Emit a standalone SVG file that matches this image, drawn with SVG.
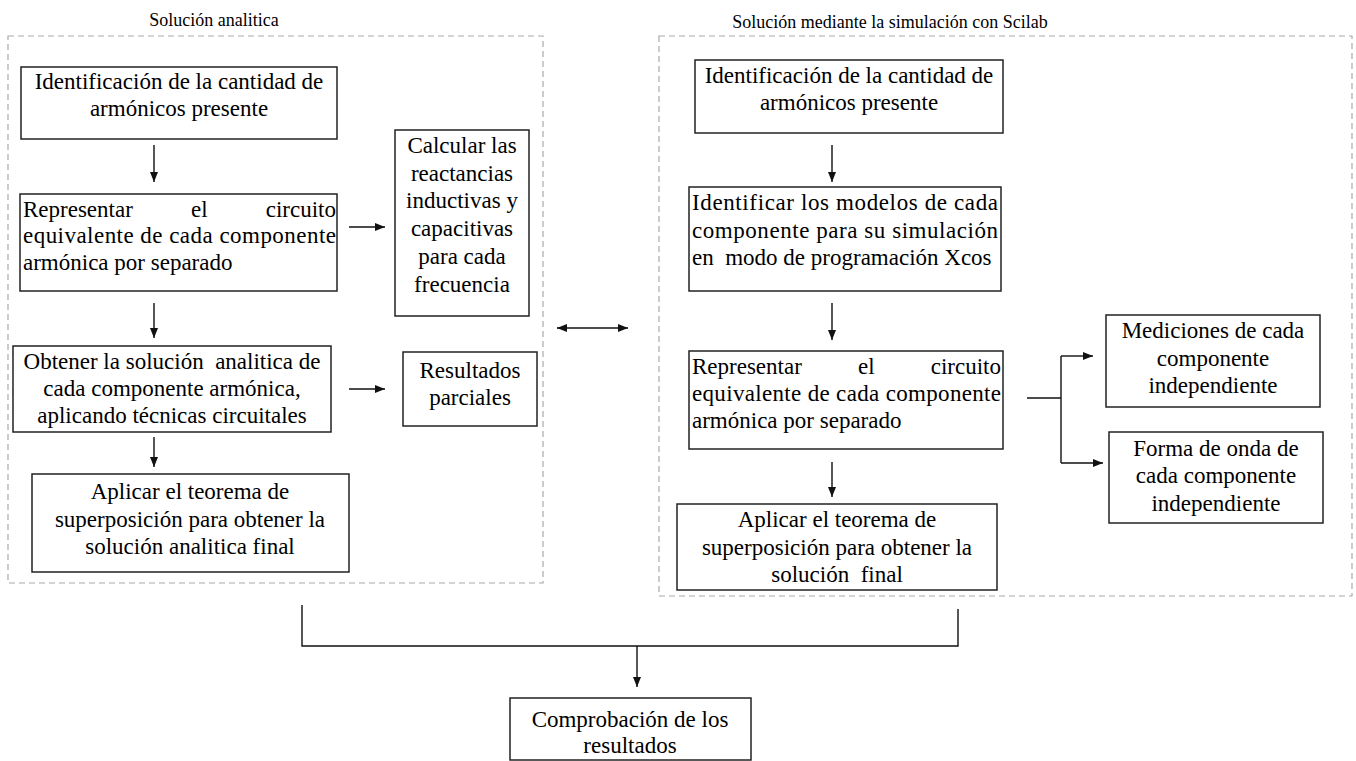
<svg xmlns="http://www.w3.org/2000/svg" width="1356" height="761" viewBox="0 0 1356 761">
<defs>
<style>
.t{font-family:"Liberation Serif","Times New Roman",serif;font-size:23px;fill:#000}
.c{text-anchor:middle}
.e{text-anchor:end}
.ttl{font-family:"Liberation Serif","Times New Roman",serif;font-size:18px;fill:#000;text-anchor:middle}
.box{fill:#fff;stroke:#222;stroke-width:1.5}
.dash{fill:none;stroke:#aaa;stroke-width:1.2;stroke-dasharray:6,4}
.ln{fill:none;stroke:#111;stroke-width:1.4}
.ar{fill:none;stroke:#111;stroke-width:1.4;marker-end:url(#ah)}
</style>
<marker id="ah" viewBox="0 0 10 8" refX="10" refY="4" markerWidth="10" markerHeight="8" markerUnits="userSpaceOnUse" orient="auto-start-reverse">
<path d="M0,0 L10,4 L0,8 z" fill="#111"/>
</marker>
</defs>
<rect width="1356" height="761" fill="#fff"/>

<g id="group-left">
<rect class="dash" x="8" y="36" width="535" height="547"/>
<text class="ttl" x="214" y="26">Solución analitica</text>
</g>
<g id="group-right">
<rect class="dash" x="659" y="36" width="693" height="560"/>
<text class="ttl" x="890" y="28">Solución mediante la simulación con Scilab</text>
</g>

<g id="connectors">
<line class="ar" x1="154" y1="145" x2="154" y2="182"/>
<line class="ar" x1="349" y1="227" x2="385" y2="227"/>
<line class="ar" x1="154" y1="303" x2="154" y2="338"/>
<line class="ar" x1="349" y1="389" x2="385" y2="389"/>
<line class="ar" x1="154" y1="437" x2="154" y2="467"/>
<line class="ar" x1="557" y1="328" x2="628" y2="328" marker-start="url(#ah)"/>
<line class="ar" x1="832" y1="145" x2="832" y2="182"/>
<line class="ar" x1="832" y1="303" x2="832" y2="340"/>
<line class="ar" x1="832" y1="462" x2="832" y2="497"/>
<line class="ln" x1="1027" y1="398" x2="1061" y2="398"/>
<line class="ln" x1="1061" y1="356" x2="1061" y2="463"/>
<line class="ar" x1="1061" y1="356" x2="1093" y2="356"/>
<line class="ar" x1="1061" y1="463" x2="1103" y2="463"/>
<polyline class="ln" points="302,605 302,646 958,646 958,609"/>
<line class="ar" x1="637" y1="646" x2="637" y2="687"/>
</g>

<g id="l-identificacion">
<rect class="box" x="21" y="67" width="316" height="72"/>
<text class="t c" x="179" y="89">Identificación de la cantidad de</text>
<text class="t c" x="179" y="116">armónicos presente</text>
</g>
<g id="l-representar">
<rect class="box" x="20" y="194" width="317" height="97"/>
<text class="t" x="23" y="217">Representar</text>
<text class="t" x="191" y="217">el</text>
<text class="t e" x="336" y="217">circuito</text>
<text class="t" x="23" y="243" textLength="313" lengthAdjust="spacing">equivalente de cada componente</text>
<text class="t" x="23" y="270">armónica por separado</text>
</g>
<g id="l-calcular">
<rect class="box" x="395" y="130" width="134" height="186"/>
<text class="t c" x="462" y="153">Calcular las</text>
<text class="t c" x="462" y="181">reactancias</text>
<text class="t c" x="462" y="208">inductivas y</text>
<text class="t c" x="462" y="236">capacitivas</text>
<text class="t c" x="462" y="264">para cada</text>
<text class="t c" x="462" y="292">frecuencia</text>
</g>
<g id="l-obtener">
<rect class="box" x="13" y="346" width="318" height="86"/>
<text class="t c" x="172" y="369" xml:space="preserve">Obtener la solución  analitica de</text>
<text class="t c" x="172" y="396">cada componente armónica,</text>
<text class="t c" x="172" y="423">aplicando técnicas circuitales</text>
</g>
<g id="l-resultados">
<rect class="box" x="403" y="352" width="134" height="74"/>
<text class="t c" x="470" y="378">Resultados</text>
<text class="t c" x="470" y="405">parciales</text>
</g>
<g id="l-aplicar">
<rect class="box" x="32" y="474" width="317" height="98"/>
<text class="t c" x="190" y="499">Aplicar el teorema de</text>
<text class="t c" x="190" y="527">superposición para obtener la</text>
<text class="t c" x="190" y="554">solución analitica final</text>
</g>

<g id="r-identificacion">
<rect class="box" x="695" y="60" width="308" height="73"/>
<text class="t c" x="849" y="83">Identificación de la cantidad de</text>
<text class="t c" x="849" y="110">armónicos presente</text>
</g>
<g id="r-identificar">
<rect class="box" x="689" y="187" width="312" height="104"/>
<text class="t" x="692" y="210" textLength="306" lengthAdjust="spacing">Identificar los modelos de cada</text>
<text class="t" x="692" y="238" textLength="306" lengthAdjust="spacing">componente para su simulación</text>
<text class="t" x="692" y="265" xml:space="preserve">en  modo de programación Xcos</text>
</g>
<g id="r-representar">
<rect class="box" x="689" y="351" width="314" height="98"/>
<text class="t" x="692" y="374">Representar</text>
<text class="t" x="858" y="374">el</text>
<text class="t e" x="1001" y="374">circuito</text>
<text class="t" x="692" y="401" textLength="309" lengthAdjust="spacing">equivalente de cada componente</text>
<text class="t" x="692" y="428">armónica por separado</text>
</g>
<g id="r-mediciones">
<rect class="box" x="1106" y="315" width="214" height="92"/>
<text class="t c" x="1213" y="338">Mediciones de cada</text>
<text class="t c" x="1213" y="366">componente</text>
<text class="t c" x="1213" y="393">independiente</text>
</g>
<g id="r-forma">
<rect class="box" x="1109" y="432" width="214" height="91"/>
<text class="t c" x="1216" y="456">Forma de onda de</text>
<text class="t c" x="1216" y="483">cada componente</text>
<text class="t c" x="1216" y="511">independiente</text>
</g>
<g id="r-aplicar">
<rect class="box" x="677" y="504" width="320" height="86"/>
<text class="t c" x="837" y="527">Aplicar el teorema de</text>
<text class="t c" x="837" y="555">superposición para obtener la</text>
<text class="t c" x="837" y="582" xml:space="preserve">solución  final</text>
</g>

<g id="comprobacion">
<rect class="box" x="510" y="698" width="241" height="62"/>
<text class="t c" x="630" y="727">Comprobación de los</text>
<text class="t c" x="630" y="753">resultados</text>
</g>
</svg>
